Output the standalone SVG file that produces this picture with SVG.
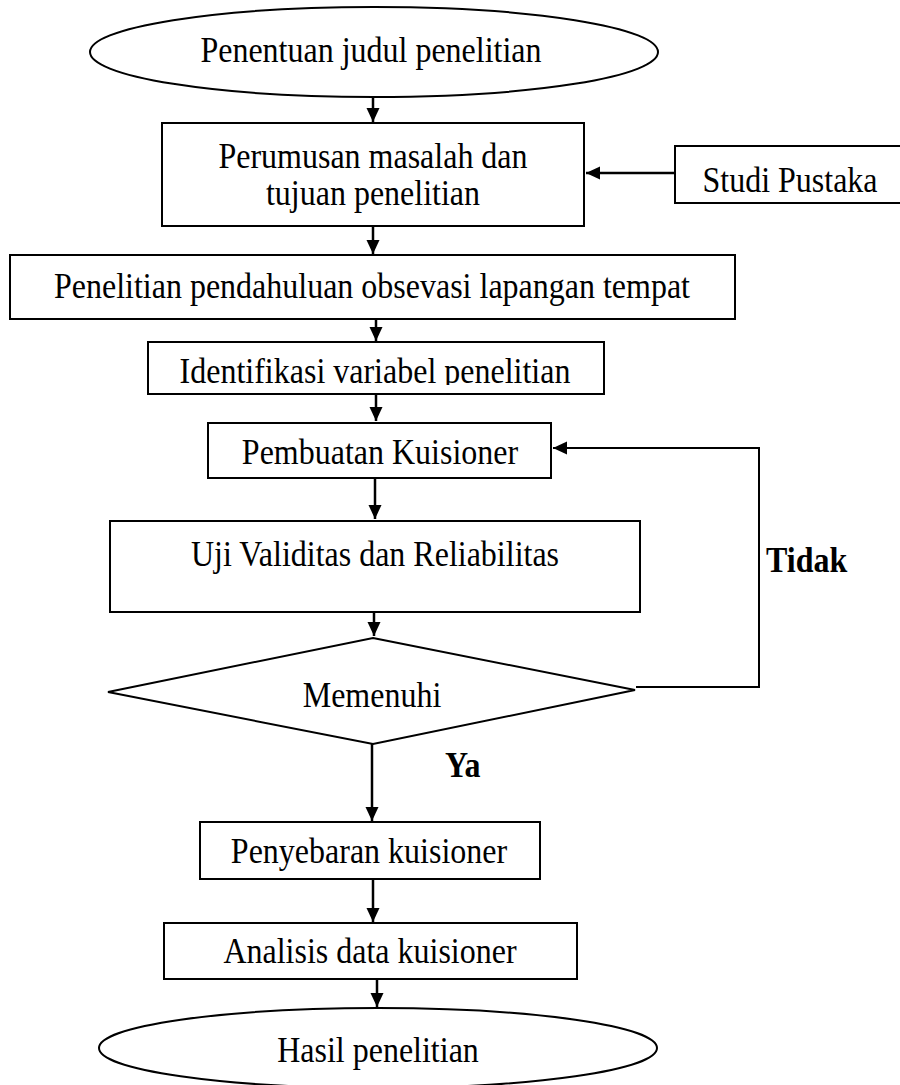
<svg xmlns="http://www.w3.org/2000/svg" width="900" height="1085" viewBox="0 0 900 1085">
<style>
.n{fill:#fff;stroke:#000;stroke-width:2}
.t{font-family:"Liberation Serif","Times New Roman",serif;font-size:32px;fill:#000;text-anchor:middle}
.b{font-family:"Liberation Serif","Times New Roman",serif;font-size:32px;font-weight:bold;fill:#000}
.c{fill:none;stroke:#000;stroke-width:2.5}
</style>
<defs>
<marker id="ah" markerUnits="userSpaceOnUse" markerWidth="16" markerHeight="14" refX="14" refY="6.5" orient="auto">
<path d="M0,0 L14,6.5 L0,13 z" fill="#000"/>
</marker>
<clipPath id="clip4"><rect x="148" y="342" width="456" height="43"/></clipPath>
</defs>
<rect width="900" height="1085" fill="#fff"/>
<g id="connectors">
<line class="c" x1="373" y1="97" x2="373" y2="122" marker-end="url(#ah)"/>
<line class="c" x1="675" y1="173" x2="586" y2="173" marker-end="url(#ah)"/>
<line class="c" x1="373" y1="226" x2="373" y2="254" marker-end="url(#ah)"/>
<line class="c" x1="376" y1="319" x2="376" y2="341" marker-end="url(#ah)"/>
<line class="c" x1="376" y1="394" x2="376" y2="421" marker-end="url(#ah)"/>
<line class="c" x1="375" y1="478" x2="375" y2="519" marker-end="url(#ah)"/>
<line class="c" x1="374" y1="606" x2="374" y2="636" marker-end="url(#ah)"/>
<line class="c" x1="372" y1="744" x2="372" y2="821" marker-end="url(#ah)"/>
<line class="c" x1="373" y1="879" x2="373" y2="922" marker-end="url(#ah)"/>
<line class="c" x1="377" y1="979" x2="377" y2="1007" marker-end="url(#ah)"/>
<polyline class="c" style="stroke-width:2" points="636,687 759,687 759,448 553,448" marker-end="url(#ah)"/>
</g>
<g id="start">
<ellipse class="n" cx="374" cy="52" rx="284" ry="45"/>
<text class="t" transform="translate(371,62) scale(1,1.1)">Penentuan judul penelitian</text>
</g>
<g id="perumusan">
<rect class="n" x="162" y="123" width="422" height="103"/>
<text class="t" transform="translate(373,168) scale(1,1.1)">Perumusan masalah dan</text>
<text class="t" transform="translate(373,205) scale(1,1.1)">tujuan penelitian</text>
</g>
<g id="studi">
<rect class="n" x="675" y="146" width="232" height="57"/>
<text class="t" transform="translate(790,192) scale(1,1.1)">Studi Pustaka</text>
</g>
<g id="pendahuluan">
<rect class="n" x="10" y="255" width="725" height="64"/>
<text class="t" transform="translate(372,298) scale(1,1.1)">Penelitian pendahuluan obsevasi lapangan tempat</text>
</g>
<g id="identifikasi">
<rect class="n" x="148" y="342" width="456" height="52"/>
<g clip-path="url(#clip4)"><text class="t" transform="translate(375,383) scale(1,1.1)">Identifikasi variabel penelitian</text></g>
</g>
<g id="pembuatan">
<rect class="n" x="208" y="423" width="343" height="55"/>
<text class="t" transform="translate(380,464) scale(1,1.1)">Pembuatan Kuisioner</text>
</g>
<g id="uji">
<rect class="n" x="110" y="521" width="530" height="91"/>
<text class="t" transform="translate(375,566) scale(1,1.1)">Uji Validitas dan Reliabilitas</text>
</g>
<g id="memenuhi">
<polygon class="n" points="373,638 635,690 373,744 108,692"/>
<text class="t" transform="translate(372,707) scale(1,1.1)">Memenuhi</text>
</g>
<g id="labels">
<text class="b" transform="translate(766,572) scale(1,1.1)">Tidak</text>
<text class="b" transform="translate(445,777) scale(1,1.1)">Ya</text>
</g>
<g id="penyebaran">
<rect class="n" x="200" y="822" width="340" height="57"/>
<text class="t" transform="translate(369,863) scale(1,1.1)">Penyebaran kuisioner</text>
</g>
<g id="analisis">
<rect class="n" x="164" y="923" width="413" height="56"/>
<text class="t" transform="translate(370,963) scale(1,1.1)">Analisis data kuisioner</text>
</g>
<g id="hasil">
<ellipse class="n" cx="378" cy="1048" rx="279" ry="40"/>
<text class="t" transform="translate(378,1062) scale(1,1.1)">Hasil penelitian</text>
</g>
</svg>
